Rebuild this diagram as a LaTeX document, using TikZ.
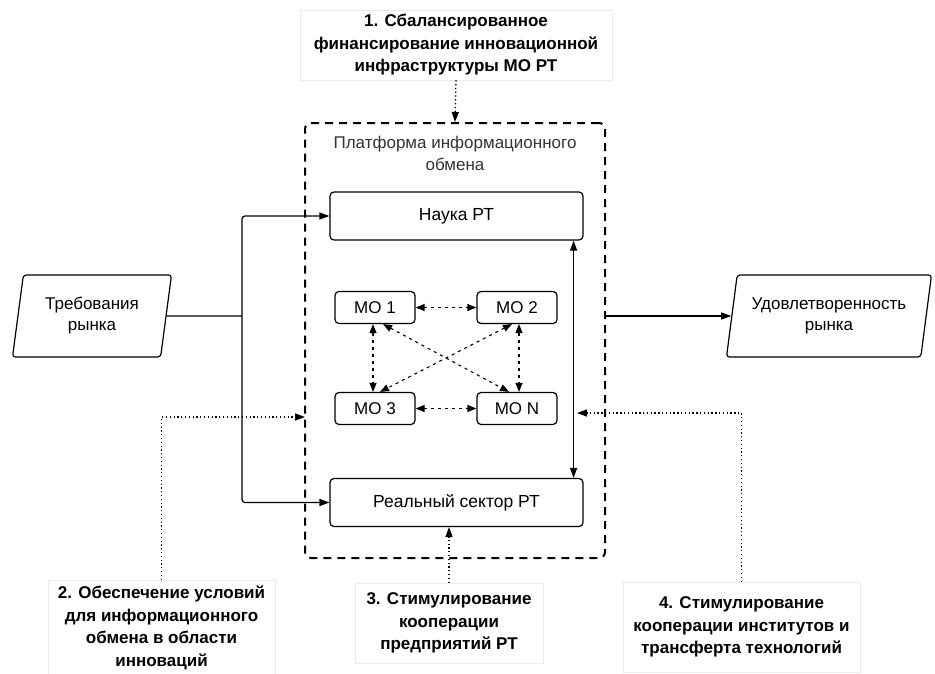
\documentclass[tikz,border=0pt]{standalone}
\usepackage{fontspec}
\setmainfont{Liberation Sans}
\usetikzlibrary{positioning,arrows.meta,shapes.geometric}

\tikzset{
  sector/.style={draw, line width=1.2pt, rounded corners=4pt, minimum width=253pt, minimum height=48pt, font=\fontsize{17.5}{21}\selectfont},
  mobox/.style={draw, line width=1.2pt, rounded corners=4pt, minimum width=80pt, minimum height=32pt, font=\fontsize{17}{20}\selectfont},
  market/.style={draw, line width=1.2pt, trapezium, trapezium left angle=76, trapezium right angle=104, trapezium stretches body, rounded corners=3pt, minimum height=82pt, align=center, font=\fontsize{17}{21}\selectfont},
  task/.style={draw=black!8, align=center, font=\bfseries\fontsize{17}{22.5}\selectfont},
  flow/.style={line width=1.2pt, rounded corners=3pt, -{Triangle[length=10pt,width=7pt]}},
  support/.style={line width=1.3pt, dash pattern=on 1.3pt off 2.5pt, -{Triangle[length=10pt,width=7pt]}},
  exchange/.style={line width=1.1pt, dash pattern=on 3pt off 4pt, {Triangle[length=9pt,width=7pt]}-{Triangle[length=9pt,width=7pt]}}
}

\begin{document}
\begin{tikzpicture}[x=1pt,y=-1pt]
    \useasboundingbox (0,0) rectangle (935,673);

    % Platform frame
    \node[draw, line width=2pt, dash pattern=on 8pt off 6pt, rounded corners=6pt, minimum width=300pt, minimum height=435pt] (platform) at (455,340.5) {};
    \node[align=center, font=\fontsize{17}{22}\selectfont, text=black!80] (ptitle) at (455,153) {Платформа информационного\\обмена};

    % Sectors
    \node[sector] (nauka) at (456.5,216) {Наука РТ};
    \node[sector] (real) at (456.5,502.5) {Реальный сектор РТ};

    % MO nodes
    \foreach \n/\x/\y/\t in {mo1/375/307.5/МО 1, mo2/517/307.5/МО 2, mo3/375/408.5/МО 3, mon/517/408.5/МО N} {
      \node[mobox] (\n) at (\x,\y) {\t};
    }

    % Market
    \node[market, minimum width=159pt] (req) at (92,316) {Требования\\рынка};
    \node[market, minimum width=205pt] (sat) at (829,316) {Удовлетворенность\\рынка};

    % Tasks
    \node[task, minimum width=312pt, minimum height=70pt] (task1) at (456,45) {1. Сбалансированное\\финансирование инновационной\\инфраструктуры МО РТ};
    \node[task, minimum width=227pt, minimum height=96pt] (task2) at (161.5,628) {2. Обеспечение условий\\для информационного\\обмена в области\\инноваций};
    \node[task, minimum width=188pt, minimum height=80pt] (task3) at (449,623) {3. Стимулирование\\кооперации\\предприятий РТ};
    \node[task, minimum width=237pt, minimum height=90pt] (task4) at (741.5,627) {4. Стимулирование\\кооперации институтов и\\трансферта технологий};

    % Exchange between MO
    \draw[exchange] (mo1) -- (mo2);
    \draw[exchange] (mo3) -- (mon);
    \draw[exchange] ([xshift=-2pt]mo1.south) -- ([xshift=-2pt]mo3.north);
    \draw[exchange] ([xshift=2pt]mo2.south) -- ([xshift=2pt]mon.north);
    \draw[exchange] ([xshift=8pt]mo1.south) -- ([xshift=-8pt]mon.north);
    \draw[exchange] ([xshift=-5pt]mo2.south) -- ([xshift=5pt]mo3.north);
    \draw[line width=1.2pt, {Triangle[length=10pt,width=7pt]}-{Triangle[length=10pt,width=7pt]}] ([xshift=-10pt]nauka.south east) -- ([xshift=-10pt]real.north east);

    % Market flows
    \coordinate (split) at (242,316);
    \draw[line width=1.2pt] (req.east) -- (split);
    \draw[flow] (split) |- (nauka.west);
    \draw[flow] (split) |- (real.west);
    \draw[flow] (sat.west -| platform.east) -- (sat.west);

    % Support measures
    \coordinate (in2) at (305,417);
    \coordinate (in4) at (577,413);
    \draw[support] (task1.south) -- (platform.north);
    \draw[support] (task2.north) |- (in2);
    \draw[support] (task3.north) -- (task3.north |- real.south);
    \draw[support] (task4.north) |- (in4);

\end{tikzpicture}
\end{document}
